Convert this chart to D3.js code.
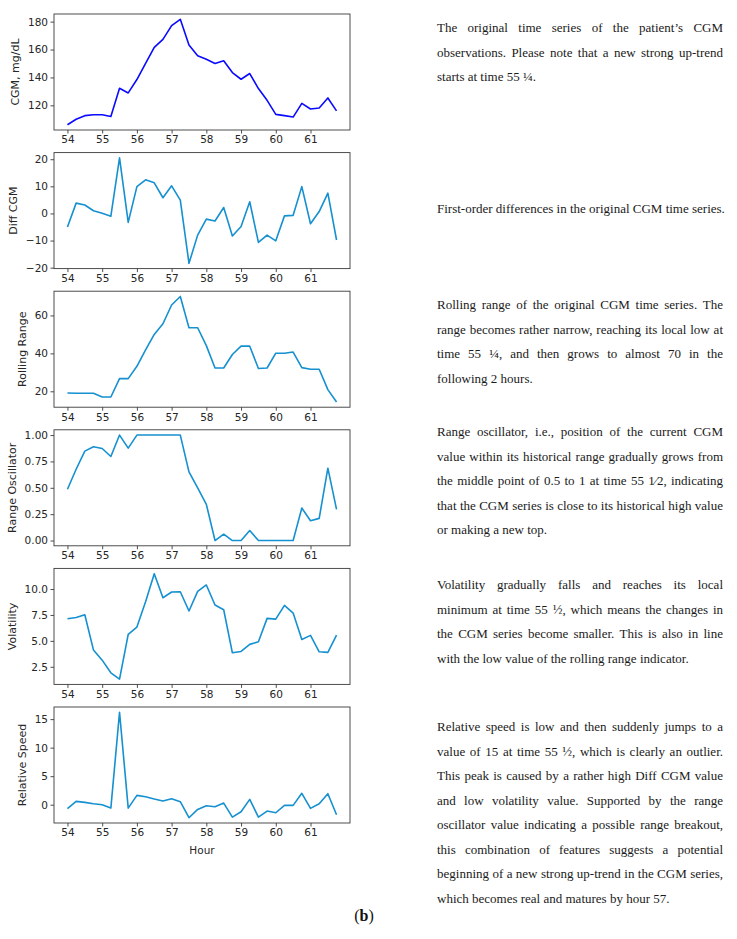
<!DOCTYPE html>
<html>
<head>
<meta charset="utf-8">
<script src="https://cdn.jsdelivr.net/npm/d3@7"></script>
<style>
  body { margin: 0; background: #fff; }
  svg { display: block; }
</style>
</head>
<body>
<svg id="fig" width="737" height="939"></svg>
<script>
// hour of each CGM reading (15 min steps)
const hours = [54, 54.25, 54.5, 54.75, 55, 55.25, 55.5, 55.75, 56, 56.25, 56.5, 56.75,
               57, 57.25, 57.5, 57.75, 58, 58.25, 58.5, 58.75, 59, 59.25, 59.5, 59.75,
               60, 60.25, 60.5, 60.75, 61, 61.25, 61.5, 61.75];
const hourTicks = [54, 55, 56, 57, 58, 59, 60, 61];

// the six feature series
const cgm = [106.1, 110, 112.6, 113.3, 113.3, 112, 132.2, 128.9, 138.5, 150, 161.5, 167.3,
             177.1, 181.7, 163.2, 155.5, 153.1, 150, 152, 143.5, 138.7, 142.8, 132, 123.6,
             113.5, 112.6, 111.6, 121.4, 117.4, 118.1, 125.3, 116];
const diffCgm = [-5.0, 3.8, 3.1, 1.0, 0.1, -1.0, 20.5, -3.3, 9.9, 12.4, 11.3, 5.8,
                 10.2, 4.9, -18.4, -8.0, -2.1, -2.8, 2.2, -8.3, -4.8, 4.3, -10.7, -8.0,
                 -10.1, -0.9, -0.7, 9.9, -3.8, 0.7, 7.5, -9.8];
const rollingRange = [19.1, 19, 19, 19, 17, 17, 26.7, 26.7, 33.2, 41.9, 50, 55.6,
                      65.5, 70, 53.5, 53.5, 44.1, 32.3, 32.3, 39.4, 43.8, 43.8, 32, 32.3,
                      40.1, 40.1, 40.7, 32.5, 31.6, 31.6, 20.9, 14.4];
const rangeOsc = [0.486, 0.676, 0.848, 0.889, 0.873, 0.797, 1, 0.876, 1, 1, 1, 1,
                  1, 1, 0.651, 0.5, 0.343, 0, 0.06, 0, 0, 0.095, 0, 0,
                  0, 0, 0, 0.308, 0.187, 0.21, 0.686, 0.295];
const volatility = [7.14, 7.26, 7.52, 4.11, 3.14, 1.92, 1.31, 5.62, 6.33, 8.78, 11.48, 9.16,
                    9.71, 9.74, 7.88, 9.77, 10.39, 8.46, 8.0, 3.85, 3.98, 4.66, 4.91, 7.17,
                    7.1, 8.42, 7.68, 5.14, 5.53, 3.95, 3.89, 5.56];
const relSpeed = [-0.7, 0.59, 0.41, 0.18, 0, -0.59, 16.2, -0.59, 1.64, 1.4, 1.0, 0.64,
                  1.05, 0.53, -2.28, -0.82, -0.18, -0.35, 0.29, -2.17, -1.23, 0.94, -2.17, -1.11,
                  -1.41, -0.12, -0.12, 2.0, -0.64, 0.18, 1.93, -1.76];

// y tick values per panel
const cgmTicks = [120, 140, 160, 180];
const diffTicks = [-20, -10, 0, 10, 20];
const rangeTicks = [20, 40, 60];
const oscTicks = [0, 0.25, 0.5, 0.75, 1];
const volTicks = [2.5, 5, 7.5, 10];
const speedTicks = [0, 5, 10, 15];

const yLabels = ["CGM, mg/dL", "Diff CGM", "Rolling Range", "Range Oscillator", "Volatility", "Relative Speed"];

// the caption text, one entry per printed line
const captions = [
  ["The original time series of the patient\u2019s CGM",
   "observations. Please note that a new strong up-trend",
   "starts at time 55 \u00bc."],
  ["First-order differences in the original CGM time series."],
  ["Rolling range of the original CGM time series. The",
   "range becomes rather narrow, reaching its local low at",
   "time 55 \u00bc, and then grows to almost 70 in the",
   "following 2 hours."],
  ["Range oscillator, i.e., position of the current CGM",
   "value within its historical range gradually grows from",
   "the middle point of 0.5 to 1 at time 55 1\u20442, indicating",
   "that the CGM series is close to its historical high value",
   "or making a new top."],
  ["Volatility gradually falls and reaches its local",
   "minimum at time 55 \u00bd, which means the changes in",
   "the CGM series become smaller. This is also in line",
   "with the low value of the rolling range indicator."],
  ["Relative speed is low and then suddenly jumps to a",
   "value of 15 at time 55 \u00bd, which is clearly an outlier.",
   "This peak is caused by a rather high Diff CGM value",
   "and low volatility value. Supported by the range",
   "oscillator value indicating a possible range breakout,",
   "this combination of features suggests a potential",
   "beginning of a new strong up-trend in the CGM series,",
   "which becomes real and matures by hour 57."]
];

const panels = [
  { values: cgm, ticks: cgmTicks, fmt: "d", color: "#0a0aff" },
  { values: diffCgm, ticks: diffTicks, fmt: "d", color: "#1590d0" },
  { values: rollingRange, ticks: rangeTicks, fmt: "d", color: "#1590d0" },
  { values: rangeOsc, ticks: oscTicks, fmt: ".2f", color: "#1590d0" },
  { values: volatility, ticks: volTicks, fmt: ".1f", color: "#1590d0" },
  { values: relSpeed, ticks: speedTicks, fmt: "d", color: "#1590d0" }
];

const svg = d3.select("#fig");

// layout
const left = 54, right = 350;
const firstTop = 14, panelH = 116, panelStep = 138.6;
const axisFont = "DejaVu Sans, sans-serif";
const ink = "#262626";

// matplotlib style 5% margins
function padded(ext) {
  const m = (ext[1] - ext[0]) * 0.05;
  return [ext[0] - m, ext[1] + m];
}

const x = d3.scaleLinear().domain(padded(d3.extent(hours))).range([left, right]);

panels.forEach(function(p, i) {
  const top = firstTop + i * panelStep;
  const bottom = top + panelH;
  const y = d3.scaleLinear().domain(padded(d3.extent(p.values))).range([bottom, top]);
  const g = svg.append("g");

  const line = d3.line()
      .x(function(d, j) { return x(hours[j]); })
      .y(function(d) { return y(d); });

  g.append("path")
      .datum(p.values)
      .attr("d", line)
      .attr("fill", "none")
      .attr("stroke", p.color)
      .attr("stroke-width", 1.6)
      .attr("stroke-linejoin", "round");

  // frame
  g.append("rect")
      .attr("x", left).attr("y", top)
      .attr("width", right - left).attr("height", panelH)
      .attr("fill", "none").attr("stroke", "#3a3a3a").attr("stroke-width", 0.9);

  const xa = g.append("g")
      .attr("transform", "translate(0," + bottom + ")")
      .call(d3.axisBottom(x).tickValues(hourTicks).tickFormat(d3.format("d"))
              .tickSize(3.5).tickPadding(2.5));
  xa.select(".domain").remove();

  const ya = g.append("g")
      .attr("transform", "translate(" + left + ",0)")
      .call(d3.axisLeft(y).tickValues(p.ticks).tickFormat(d3.format(p.fmt))
              .tickSize(3.5).tickPadding(2.5));
  ya.select(".domain").remove();

  [xa, ya].forEach(function(a) {
    a.selectAll("text").attr("font-family", axisFont).attr("font-size", 10.5).attr("fill", ink);
    a.selectAll("line").attr("stroke", "#3a3a3a").attr("stroke-width", 0.9);
  });

  // y label sits just left of the widest tick label
  const bb = ya.node().getBBox();
  g.append("text")
      .attr("transform", "translate(" + (left + bb.x - 8.5) + "," + ((top + bottom) / 2) + ") rotate(-90)")
      .attr("text-anchor", "middle")
      .attr("font-family", axisFont)
      .attr("font-size", 11)
      .attr("fill", ink)
      .text(yLabels[i]);

  if (i === panels.length - 1) {
    svg.append("text")
        .attr("x", (left + right) / 2)
        .attr("y", bottom + 31)
        .attr("text-anchor", "middle")
        .attr("font-family", axisFont)
        .attr("font-size", 10.5)
        .attr("fill", ink)
        .text("Hour");
  }
});

// captions on the right, justified line by line
const colLeft = 437, colWidth = 286, lineGap = 24.5;
const firstBaselines = [32, 213, 309, 436, 589, 731];
const txt = svg.append("g")
    .attr("font-family", "Liberation Serif, serif")
    .attr("font-size", 13)
    .attr("fill", "#1a1a1a");

captions.forEach(function(lines, k) {
  lines.forEach(function(str, i) {
    const yy = firstBaselines[k] + i * lineGap;
    const t = txt.append("text").attr("x", colLeft).attr("y", yy);
    if (i === lines.length - 1) { t.text(str); return; }
    const words = str.split(" ");
    const spans = words.map(function(w) { return t.append("tspan").text(w); });
    const widths = spans.map(function(s) { return s.node().getComputedTextLength(); });
    const gap = (colWidth - d3.sum(widths)) / (words.length - 1);
    let cx = colLeft;
    spans.forEach(function(s, j) { s.attr("x", cx); cx += widths[j] + gap; });
  });
});

// sub-figure tag
const tag = svg.append("text")
    .attr("x", 364).attr("y", 921)
    .attr("text-anchor", "middle")
    .attr("font-family", "Liberation Serif, serif")
    .attr("font-size", 16)
    .attr("fill", "#111");
tag.append("tspan").text("(");
tag.append("tspan").attr("font-weight", "bold").text("b");
tag.append("tspan").text(")");
</script>
</body>
</html>
